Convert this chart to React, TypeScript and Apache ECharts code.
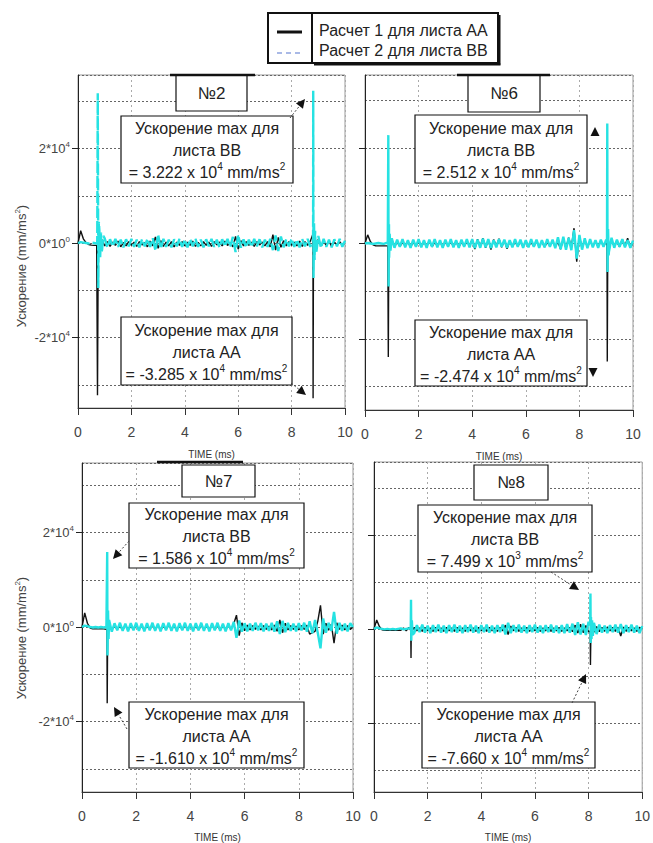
import React, { useEffect, useRef } from 'react';
import * as echarts from 'echarts';

// ---------- DATA ----------
const timeGrid = [
  0, 0.1, 0.2, 0.3, 0.4, 0.5, 0.6, 0.7, 0.8, 0.9,
  1, 1.1, 1.2, 1.3, 1.4, 1.5, 1.6, 1.7, 1.8, 1.9,
  2, 2.1, 2.2, 2.3, 2.4, 2.5, 2.6, 2.7, 2.8, 2.9,
  3, 3.1, 3.2, 3.3, 3.4, 3.5, 3.6, 3.7, 3.8, 3.9,
  4, 4.1, 4.2, 4.3, 4.4, 4.5, 4.6, 4.7, 4.8, 4.9,
  5, 5.1, 5.2, 5.3, 5.4, 5.5, 5.6, 5.7, 5.8, 5.9,
  6, 6.1, 6.2, 6.3, 6.4, 6.5, 6.6, 6.7, 6.8, 6.9,
  7, 7.1, 7.2, 7.3, 7.4, 7.5, 7.6, 7.7, 7.8, 7.9,
  8, 8.1, 8.2, 8.3, 8.4, 8.5, 8.6, 8.7, 8.8, 8.9,
  9, 9.1, 9.2, 9.3, 9.4, 9.5, 9.6, 9.7, 9.8, 9.9,
  10,
];

// Panel №2
const aa2Base = [
  0, 2600, 900, 100, -300, -450, -500, -500, -1500, 700,
  -600, 300, -700, 200, -500, 400, -800, 100, -600, 300,
  -500, 200, -700, 300, -400, 100, -800, 400, -600, 1300,
  -1100, 500, -700, 200, -600, 300, -800, 200, -500, 300,
  -600, 200, -500, 400, -700, 100, -600, 300, -500, 200,
  -700, 300, -400, 200, -600, 400, -500, 100, -800, 1400,
  -1300, 500, -600, 300, -500, 200, -700, 300, -400, 200,
  -600, 300, -800, 1800, -1500, 1200, -900, 500, -600, 300,
  -500, 200, -600, 400, -700, 300, -500, 400, 1900, -1200,
  800, -600, 300, -500, 400, -700, 200, -400, 300, -500,
  0,
];
const aa2Peaks: [number, number][] = [[0.73, -32200], [0.76, 1500], [8.805, -32850], [8.82, 1500]];
const bb2Base = [
  0, 200, 100, 0, -100, 100, 0, -100, 2800, -1500,
  1000, -900, 800, -700, 900, -800, 700, -900, 800, -700,
  900, -800, 700, -900, 800, -700, 900, -800, 1000, -1600,
  1800, -1200, 900, -800, 700, -900, 800, -700, 900, -800,
  700, -900, 800, -700, 900, -800, 700, -900, 800, -700,
  900, -800, 700, -900, 800, -700, 900, -800, 1300, -1900,
  1700, -1000, 800, -900, 700, -800, 900, -700, 800, -900,
  700, -800, 900, -1500, 1600, -1700, 1400, -900, 800, -700,
  900, -800, 700, -900, 800, -700, 900, -800, 600, -1400,
  1500, -1000, 900, -800, 700, -900, 800, -700, 900, -800,
  500,
];
const bb2Peaks: [number, number][] = [
  [0.72, 0], [0.74, 31700], [0.76, -9500], [0.78, 4500], [0.83, -3000], [0.86, 2200], [0.88, -1800], [0.95, 1500],
  [8.805, 1000], [8.81, 32220], [8.82, -7400], [8.84, 4200], [8.86, -3600], [8.88, 2600], [8.93, -1800],
];

// Panel №6
const aa6Base = [
  0, 1800, 400, -300, -500, -500, -500, -500, -500, -1000,
  600, -700, 300, -600, 200, -500, 300, -700, 200, -500,
  300, -600, 200, -500, 400, -700, 200, -500, 300, -600,
  200, -500, 400, -600, 300, -700, 200, -500, 300, -400,
  800, -1200, 900, -600, 1100, -900, 700, -1300, 800, -500,
  1000, -800, 600, -1100, 400, -600, 300, -500, 200, -600,
  300, -500, 200, -600, 400, -500, 300, -700, 200, -500,
  400, -600, 300, -1200, 900, -1000, 1200, -800, 3200, -3800,
  1500, -1000, 600, -700, 400, -500, 300, -600, 400, -500,
  300, -600, 400, -500, 300, -700, 900, -500, 1100, -800,
  0,
];
const aa6Peaks: [number, number][] = [[0.85, -500], [0.87, -23800], [0.89, 1200], [9.03, -500], [9.04, -24740], [9.06, 800]];
const bb6Base = [
  0, 100, 0, -100, 0, 100, 0, -100, 100, -3000,
  1100, -900, 800, -700, 900, -800, 700, -900, 800, -700,
  900, -800, 700, -900, 800, -700, 900, -800, 700, -900,
  800, -700, 900, -800, 700, -900, 800, -700, 900, -800,
  900, -1000, 800, -900, 1000, -800, 900, -1000, 700, -800,
  900, -700, 800, -900, 700, -800, 900, -700, 800, -900,
  700, -800, 900, -700, 800, -900, 700, -800, 900, -700,
  800, -1000, 1300, -1200, 1400, -1300, 1200, -1400, 2800, -3200,
  1800, -1300, 1100, -1000, 900, -800, 700, -900, 800, -700,
  800, -1800, 1200, -900, 800, -700, 900, -800, 700, -900,
  600,
];
const bb6Peaks: [number, number][] = [
  [0.85, 0], [0.87, 22700], [0.88, -9000], [0.895, 4000], [0.92, 2000], [0.95, -1500],
  [9.03, 500], [9.04, 25120], [9.05, -6000], [9.07, 3000], [9.09, -2500],
];

// Panel №7
const aa7Base = [
  0, 3000, 800, -200, -400, -400, -400, -400, -400, -500,
  400, -600, 300, -500, 200, -600, 300, -400, 200, -500,
  300, -500, 200, -600, 300, -400, 200, -500, 300, -600,
  200, -500, 300, -400, 200, -600, 300, -500, 200, -400,
  300, -500, 200, -600, 300, -500, 200, -400, 300, -500,
  200, -600, 300, -400, 200, -500, 700, 2500, -1800, 900,
  -800, 400, -600, 300, -500, 200, -600, 300, -500, 200,
  -600, 400, -900, 1500, -1200, 800, -600, 300, -500, 200,
  -600, 300, -500, 400, -1500, -1200, -900, 1200, 4600, -1500,
  800, -700, 600, -3400, 900, -500, 400, -600, 300, -500,
  0,
];
const aa7Peaks: [number, number][] = [[0.92, -400], [0.93, -16100], [0.95, 1500], [0.97, -800]];
const bb7Base = [
  0, 300, 200, 0, -100, 0, -100, 0, -100, 0,
  1500, -1000, 800, -700, 900, -800, 700, -900, 800, -700,
  900, -800, 700, -900, 800, -700, 900, -800, 700, -900,
  800, -700, 900, -800, 700, -900, 800, -700, 900, -800,
  700, -900, 800, -700, 900, -800, 700, -900, 800, -700,
  900, -800, 700, -900, 800, -700, 1100, -2300, 1400, -1000,
  800, -900, 700, -800, 900, -700, 800, -900, 700, -800,
  900, -1000, 1200, -1500, 1300, -1100, 900, -800, 700, -900,
  800, -700, 900, -1000, 1200, -1300, 1500, -1200, -4500, 1800,
  -1200, 900, -800, 3200, -1400, 900, -800, 700, -900, 800,
  0,
];
const bb7Peaks: [number, number][] = [[0.92, 0], [0.93, 15860], [0.94, -6000], [0.96, 3500], [0.98, -2500]];

// Panel №8
const aa8Base = [
  0, 1900, 500, -200, -300, -300, -300, -300, -300, -300,
  -300, 200, -400, 300, -500, 300, -400, 200, -500, 300,
  -400, 200, -500, 300, -400, 200, -500, 300, -400, 200,
  -500, 300, -400, 200, -500, 300, -400, 200, -500, 300,
  -400, 200, -500, 300, -400, 200, -500, 300, -400, 800,
  -1200, 600, -400, 300, -500, 200, -400, 300, -500, 200,
  -400, 300, -500, 200, -400, 300, -500, 200, -400, 300,
  -500, 200, -400, 300, -600, 800, -900, 1000, -800, 700,
  -600, 900, -700, 500, -600, 300, -500, 400, -400, 300,
  -500, 300, -1500, 400, -500, 300, -400, 200, -500, 300,
  0,
];
const aa8Peaks: [number, number][] = [[1.37, -300], [1.38, -6200], [1.39, 600], [8.06, -500], [8.07, -7660], [8.09, 700]];
const bb8Base = [
  0, 300, 100, 0, -100, 0, -100, 0, -100, 0,
  100, -100, 0, 100, 1000, -900, 800, -700, 900, -800,
  700, -900, 800, -700, 900, -800, 700, -900, 800, -700,
  900, -800, 700, -900, 800, -700, 900, -800, 700, -900,
  800, -700, 900, -800, 700, -900, 800, -700, 900, -1200,
  1300, -900, 800, -700, 900, -800, 700, -900, 800, -700,
  900, -800, 700, -900, 800, -700, 900, -800, 700, -900,
  800, -900, 1000, -800, 1100, -1300, 1400, -1200, 1100, -1300,
  1500, -1600, 1300, -1100, 900, -800, 700, -900, 800, -700,
  900, -800, 1000, -900, 800, -700, 900, -800, 700, -900,
  600,
];
const bb8Peaks: [number, number][] = [
  [1.37, 0], [1.38, 6200], [1.39, -2500], [1.41, 1800], [1.44, -1200],
  [8.06, 800], [8.07, 7499], [8.08, -3000], [8.09, 2500], [8.11, -2200], [8.13, 1800], [8.16, -1500],
];

const panelTitles = ['№2', '№6', '№7', '№8'];
const bbMaxMantissa = ['3.222', '2.512', '1.586', '7.499'];
const bbMaxExponent = ['4', '4', '4', '3'];
const aaMaxMantissa = ['-3.285', '-2.474', '-1.610', '-7.660'];
const aaMaxExponent = ['4', '4', '4', '4'];
const legendNames = ['Расчет 1 для листа AA', 'Расчет 2 для листа BB'];
const yTickValues = [-20000, 0, 20000];
const yTickText: Record<string, [string, string]> = {
  '20000': ['2*10', '4'],
  '0': ['0*10', '0'],
  '-20000': ['-2*10', '4'],
};
const yMin = [-34900, -34900, -34900, -34700];
const yMax = [35550, 35300, 34700, 35500];
const xMin = 0;
const xMax = 10;
const xStep = 2;

// ---------- LAYOUT ----------
const FONT = "'Liberation Sans', Arial, Helvetica, sans-serif";
const grids = [
  { left: 78, top: 75, width: 267, height: 333 },
  { left: 365, top: 75, width: 268, height: 335 },
  { left: 82, top: 463, width: 271, height: 329 },
  { left: 374, top: 462, width: 269, height: 330 },
];
const annoBoxes = [
  { top: [121, 116, 172, 67], bottom: [121, 317, 171, 68] },
  { top: [415, 115, 172, 68], bottom: [415, 320, 172, 66] },
  { top: [129, 503, 175, 65], bottom: [129, 702, 175, 66] },
  { top: [418, 505, 174, 67], bottom: [422, 702, 173, 66] },
];
const titleBoxes = [[176, 75, 71, 36], [468, 75, 72, 37], [182, 465, 73, 32], [474, 465, 74, 35]];
const titleBars: (number[] | null)[] = [[170, 255, 75], [457, 550, 75], [157, 243, 462], null];
const arrows: [number, number, number, number, boolean][] = [
  [290, 118, 305, 99, true],
  [291, 383, 306, 395, true],
  [595, 141, 595, 127, false],
  [593, 364, 593, 377, false],
  [129, 541, 113, 559, true],
  [127, 729, 114, 707, true],
  [551, 572, 579, 590, true],
  [572, 703, 586, 674, true],
];

function merge(base: number[], peaks: [number, number][]) {
  const pts: [number, number][] = timeGrid.map((t, i) => [t, base[i]]);
  return pts.concat(peaks).sort((a, b) => a[0] - b[0]);
}

const panelData = [
  [merge(aa2Base, aa2Peaks), merge(bb2Base, bb2Peaks)],
  [merge(aa6Base, aa6Peaks), merge(bb6Base, bb6Peaks)],
  [merge(aa7Base, aa7Peaks), merge(bb7Base, bb7Peaks)],
  [merge(aa8Base, aa8Peaks), merge(bb8Base, bb8Peaks)],
];

function buildOption() {
  const xAxis: any[] = [];
  const yAxis: any[] = [];
  const series: any[] = [];
  const graphic: any[] = [];

  grids.forEach((g, k) => {
    xAxis.push({
      type: 'value',
      gridIndex: k,
      min: xMin,
      max: xMax,
      interval: xStep,
      axisLine: { show: true, onZero: false, lineStyle: { color: '#333', width: 1 } },
      axisTick: { show: true, inside: false, length: 7, lineStyle: { color: '#333' } },
      axisLabel: { fontSize: 14, color: '#444', margin: 17, fontFamily: FONT },
      splitLine: { show: true, lineStyle: { type: [2, 3], color: '#aaa', width: 1 } },
      name: 'TIME (ms)',
      nameLocation: 'middle',
      nameGap: k < 2 ? 41 : 40,
      nameTextStyle: { fontSize: 10, color: '#333', fontFamily: FONT },
    });
    yAxis.push({
      type: 'value',
      gridIndex: k,
      position: 'left',
      min: yMin[k],
      max: yMax[k],
      splitNumber: 7,
      minInterval: 10000,
      maxInterval: 10000,
      axisLine: { show: true, onZero: false, lineStyle: { color: '#222', width: 1 } },
      axisTick: { show: false },
      axisLabel: {
        show: k % 2 === 0,
        margin: 8,
        formatter: (v: number) => {
          const t = yTickText[String(v)];
          return t ? `{b|${t[0]}}{s|${t[1]}}` : '';
        },
        rich: {
          b: { fontSize: 13, color: '#444', fontFamily: FONT, lineHeight: 16 },
          s: { fontSize: 8, color: '#444', fontFamily: FONT, lineHeight: 8, verticalAlign: 'top' },
        },
      },
      splitLine: { show: true, lineStyle: { type: [2, 2], color: '#666', width: 1 } },
    });
    yAxis.push({
      type: 'value',
      gridIndex: k,
      position: 'left',
      min: yMin[k],
      max: yMax[k],
      axisLine: { show: false },
      axisTick: { show: true, length: 6, customValues: yTickValues, lineStyle: { color: '#222' } },
      axisLabel: { show: false },
      splitLine: { show: false },
    });
    series.push({
      name: legendNames[0],
      type: 'line',
      xAxisIndex: k,
      yAxisIndex: 2 * k,
      data: panelData[k][0],
      showSymbol: false,
      symbol: 'none',
      lineStyle: { color: '#111', width: 1.4 },
      silent: true,
      z: 2,
    });
    series.push({
      name: legendNames[1],
      type: 'line',
      xAxisIndex: k,
      yAxisIndex: 2 * k,
      data: panelData[k][1],
      showSymbol: false,
      symbol: 'none',
      lineStyle: { color: '#26e2e2', width: 2.4, type: k === 0 ? [12, 3] : 'solid' },
      silent: true,
      z: 3,
    });

    // title box
    const tb = titleBoxes[k];
    graphic.push({ type: 'rect', shape: { x: tb[0], y: tb[1], width: tb[2], height: tb[3] }, style: { fill: '#fff', stroke: '#111', lineWidth: 1.2 }, z: 100 });
    const bar = titleBars[k];
    if (bar) {
      graphic.push({ type: 'line', shape: { x1: bar[0], y1: bar[2], x2: bar[1], y2: bar[2] }, style: { stroke: '#111', lineWidth: 2.5 }, z: 101 });
    }
    graphic.push({
      type: 'text', x: tb[0] + tb[2] / 2, y: tb[1] + tb[3] / 2, z: 102,
      style: { text: panelTitles[k], fontSize: 17, fontFamily: FONT, fill: '#222', align: 'center', verticalAlign: 'middle', textAlign: 'center', textVerticalAlign: 'middle' },
    });

    // annotation boxes
    const boxes = [
      { r: annoBoxes[k].top, sheet: 'BB', m: bbMaxMantissa[k], e: bbMaxExponent[k] },
      { r: annoBoxes[k].bottom, sheet: 'AA', m: aaMaxMantissa[k], e: aaMaxExponent[k] },
    ];
    boxes.forEach((b) => {
      graphic.push({ type: 'rect', shape: { x: b.r[0], y: b.r[1], width: b.r[2], height: b.r[3] }, style: { fill: '#fff', stroke: '#111', lineWidth: 1.2 }, z: 100 });
      graphic.push({
        type: 'text', x: b.r[0] + b.r[2] / 2, y: b.r[1] + b.r[3] / 2 + 1, z: 102,
        style: {
          text: `{a|Ускорение max для}\n{a|листа ${b.sheet}}\n{a|= ${b.m} x 10}{s|${b.e}}{a| mm/ms}{s|2}`,
          align: 'center', verticalAlign: 'middle', textAlign: 'center', textVerticalAlign: 'middle',
          rich: {
            a: { fontSize: 16, fontFamily: FONT, fill: '#222', color: '#222', lineHeight: 22 },
            s: { fontSize: 10, fontFamily: FONT, fill: '#222', color: '#222', lineHeight: 12, verticalAlign: 'top' },
          },
        },
      });
    });
  });

  // arrows
  arrows.forEach(([x1, y1, x2, y2, withLine]) => {
    const dx = x2 - x1, dy = y2 - y1;
    const len = Math.sqrt(dx * dx + dy * dy);
    const ux = dx / len, uy = dy / len;
    const hl = 9, hw = 4.5;
    const bx = x2 - ux * hl, by = y2 - uy * hl;
    if (withLine) {
      graphic.push({ type: 'line', shape: { x1, y1, x2: bx, y2: by }, style: { stroke: '#444', lineWidth: 1, lineDash: [2, 2] }, z: 101 });
    }
    graphic.push({
      type: 'polygon', z: 101,
      shape: { points: [[x2, y2], [bx - uy * hw, by + ux * hw], [bx + uy * hw, by - ux * hw]] },
      style: { fill: '#111' },
    });
  });

  // y axis names
  [[21, 266], [21, 638]].forEach(([x, y]) => {
    graphic.push({
      type: 'text', x, y, rotation: Math.PI / 2, z: 102,
      style: {
        text: '{a|Ускорение (mm/ms}{s|2}{a|)}',
        align: 'center', verticalAlign: 'middle', textAlign: 'center', textVerticalAlign: 'middle',
        rich: {
          a: { fontSize: 13, fontFamily: FONT, fill: '#444', color: '#444', lineHeight: 16 },
          s: { fontSize: 8, fontFamily: FONT, fill: '#444', color: '#444', lineHeight: 8, verticalAlign: 'top' },
        },
      },
    });
  });

  // legend
  graphic.push({ type: 'rect', shape: { x: 268, y: 13, width: 44, height: 50 }, style: { fill: '#fff', stroke: '#111', lineWidth: 2 }, z: 100 });
  graphic.push({ type: 'rect', shape: { x: 312, y: 13, width: 186, height: 50 }, style: { fill: '#fff', stroke: '#111', lineWidth: 2 }, z: 100 });
  graphic.push({ type: 'line', shape: { x1: 499.5, y1: 15, x2: 499.5, y2: 64.5 }, style: { stroke: '#111', lineWidth: 2 }, z: 101 });
  graphic.push({ type: 'line', shape: { x1: 314, y1: 64.5, x2: 500.5, y2: 64.5 }, style: { stroke: '#111', lineWidth: 2 }, z: 101 });
  graphic.push({ type: 'line', shape: { x1: 277, y1: 32, x2: 302, y2: 32 }, style: { stroke: '#111', lineWidth: 3 }, z: 101 });
  graphic.push({ type: 'line', shape: { x1: 277, y1: 53, x2: 302, y2: 53 }, style: { stroke: '#a9b9e6', lineWidth: 2, lineDash: [5, 4] }, z: 101 });
  legendNames.forEach((n, i) => {
    graphic.push({
      type: 'text', x: 319, y: 30 + i * 20, z: 102,
      style: { text: n, fontSize: 16, fontFamily: FONT, fill: '#222', align: 'left', verticalAlign: 'middle', textAlign: 'left', textVerticalAlign: 'middle' },
    });
  });

  return {
    animation: false,
    backgroundColor: '#fff',
    grid: grids.map((g) => ({ ...g, show: true, borderColor: '#999', borderWidth: 1, backgroundColor: 'transparent', containLabel: false })),
    xAxis,
    yAxis,
    series,
    graphic: { elements: graphic },
  };
}

export default function App() {
  const ref = useRef<HTMLDivElement>(null);
  useEffect(() => {
    const chart = echarts.init(ref.current!, null, { renderer: 'svg' });
    chart.setOption(buildOption() as any);
    return () => chart.dispose();
  }, []);
  return <div ref={ref} style={{ position: 'fixed', left: 0, top: 0, width: 653, height: 843, background: '#fff' }} />;
}
